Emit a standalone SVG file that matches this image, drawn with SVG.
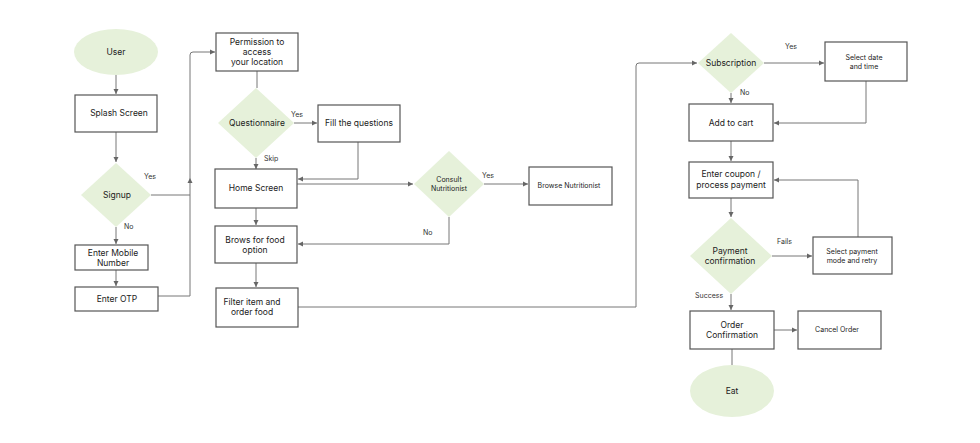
<svg xmlns="http://www.w3.org/2000/svg" width="980" height="443" viewBox="0 0 980 443">
<style>
.bx{fill:#fff;stroke:#555;stroke-width:1.2}
.dm{fill:#e6f1da;stroke:none}
.el{fill:#e6f1da;stroke:none}
.t{font-family:Inter,"Noto Sans",sans-serif;font-size:8.5px;fill:#222;text-anchor:middle}
.s{font-family:Inter,"Noto Sans",sans-serif;font-size:7px;fill:#222;text-anchor:middle}
.l{font-family:Inter,"Noto Sans",sans-serif;font-size:7px;fill:#333}
.c{fill:none;stroke:#777;stroke-width:1}
</style>
<defs>
<marker id="a" markerWidth="6" markerHeight="6" refX="5" refY="3" orient="auto" markerUnits="userSpaceOnUse">
<path d="M0,0.5 L5,3 L0,5.5 z" fill="#666"/>
</marker>
</defs>
<rect width="980" height="443" fill="#fff"/>
<g id="connectors">
<path class="c" d="M116,75 V94" marker-end="url(#a)"/>
<path class="c" d="M116,132 V162" marker-end="url(#a)"/>
<path class="c" d="M116,227 V244" marker-end="url(#a)"/>
<path class="c" d="M116,270 V286" marker-end="url(#a)"/>
<path class="c" d="M151,195 H190"/>
<path class="c" d="M158,296 H190 V178" marker-end="url(#a)"/>
<path class="c" d="M190,178 V55 Q190,52 193,52 H215" marker-end="url(#a)"/>
<path class="c" d="M257,71 V88"/>
<path class="c" d="M294,123 H317" marker-end="url(#a)"/>
<path class="c" d="M256,158 V169" marker-end="url(#a)"/>
<path class="c" d="M358,142 V179 H298" marker-end="url(#a)"/>
<path class="c" d="M297,184 H413" marker-end="url(#a)"/>
<path class="c" d="M484,184 H528" marker-end="url(#a)"/>
<path class="c" d="M449,217 V244 H298" marker-end="url(#a)"/>
<path class="c" d="M256,208 V225" marker-end="url(#a)"/>
<path class="c" d="M256,263 V287" marker-end="url(#a)"/>
<path class="c" d="M298,307 H636 V66 Q636,63 639,63 H697" marker-end="url(#a)"/>
<path class="c" d="M764,63 H824" marker-end="url(#a)"/>
<path class="c" d="M866,81 V123 H774" marker-end="url(#a)"/>
<path class="c" d="M731,93 V103" marker-end="url(#a)"/>
<path class="c" d="M731,141 V161" marker-end="url(#a)"/>
<path class="c" d="M731,198 V217" marker-end="url(#a)"/>
<path class="c" d="M772,256 H812" marker-end="url(#a)"/>
<path class="c" d="M858,237 V180 H774" marker-end="url(#a)"/>
<path class="c" d="M731,294 V310" marker-end="url(#a)"/>
<path class="c" d="M774,330 H797" marker-end="url(#a)"/>
<path class="c" d="M732,349 V365"/>
<text class="l" x="144" y="179">Yes</text>
<text class="l" x="124" y="229">No</text>
<text class="l" x="291" y="117">Yes</text>
<text class="l" x="264" y="161">Skip</text>
<text class="l" x="482" y="178">Yes</text>
<text class="l" x="423" y="235">No</text>
<text class="l" x="785" y="49">Yes</text>
<text class="l" x="740" y="95">No</text>
<text class="l" x="777" y="244">Fails</text>
<text class="l" x="695" y="298">Success</text>
</g>
<g id="user"><ellipse class="el" cx="116" cy="52" rx="42" ry="23"/><text class="t" x="116" y="55">User</text></g>
<g id="splash"><rect class="bx" x="75" y="95" width="82" height="37"/><text class="t" x="119" y="116">Splash Screen</text></g>
<g id="signup"><polygon class="dm" points="116,163 151,195 116,227 81,195"/><text class="t" x="117" y="198">Signup</text></g>
<g id="mobile"><rect class="bx" x="75" y="245" width="73" height="25"/><text class="t" x="113" y="256">Enter Mobile</text><text class="t" x="113" y="266">Number</text></g>
<g id="otp"><rect class="bx" x="75" y="287" width="83" height="24"/><text class="t" x="117" y="302">Enter OTP</text></g>
<g id="permission"><rect class="bx" x="216" y="33" width="82" height="38"/><text class="t" x="257" y="45">Permission to</text><text class="t" x="257" y="55">access</text><text class="t" x="257" y="65">your location</text></g>
<g id="questionnaire"><polygon class="dm" points="256,88 294,123 256,158 218,123"/><text class="t" x="257" y="126">Questionnaire</text></g>
<g id="fill"><rect class="bx" x="318" y="105" width="82" height="37"/><text class="t" x="359" y="126">Fill the questions</text></g>
<g id="home"><rect class="bx" x="215" y="169" width="82" height="39"/><text class="t" x="256" y="191">Home Screen</text></g>
<g id="consult"><polygon class="dm" points="449,151 484,184 449,217 414,184"/><text class="s" x="449" y="182">Consult</text><text class="s" x="449" y="191">Nutritionist</text></g>
<g id="browse"><rect class="bx" x="529" y="167" width="83" height="38"/><text class="s" x="569" y="188">Browse Nutritionist</text></g>
<g id="brows"><rect class="bx" x="215" y="226" width="82" height="37"/><text class="t" x="255" y="243">Brows for food</text><text class="t" x="255" y="253">option</text></g>
<g id="filter"><rect class="bx" x="216" y="288" width="82" height="39"/><text class="t" x="252" y="305">Filter item and</text><text class="t" x="252" y="315">order food</text></g>
<g id="subscription"><polygon class="dm" points="731,33 764,63 731,93 698,63"/><text class="t" x="731" y="66">Subscription</text></g>
<g id="selectdate"><rect class="bx" x="825" y="42" width="82" height="39"/><text class="s" x="864" y="60">Select date</text><text class="s" x="864" y="69">and time</text></g>
<g id="cart"><rect class="bx" x="689" y="104" width="84" height="37"/><text class="t" x="731" y="126">Add to cart</text></g>
<g id="coupon"><rect class="bx" x="689" y="162" width="84" height="36"/><text class="t" x="731" y="177">Enter coupon /</text><text class="t" x="731" y="188">process payment</text></g>
<g id="payment"><polygon class="dm" points="731,218 772,256 731,294 690,256"/><text class="t" x="730" y="254">Payment</text><text class="t" x="730" y="264">confirmation</text></g>
<g id="retry"><rect class="bx" x="813" y="237" width="79" height="37"/><text class="s" x="852" y="254">Select payment</text><text class="s" x="852" y="263">mode and retry</text></g>
<g id="order"><rect class="bx" x="690" y="311" width="84" height="38"/><text class="t" x="732" y="328">Order</text><text class="t" x="732" y="338">Confirmation</text></g>
<g id="cancel"><rect class="bx" x="798" y="311" width="83" height="38"/><text class="s" x="837" y="332">Cancel Order</text></g>
<g id="eat"><ellipse class="el" cx="732" cy="391" rx="42" ry="26"/><text class="t" x="732" y="394">Eat</text></g>
</svg>
